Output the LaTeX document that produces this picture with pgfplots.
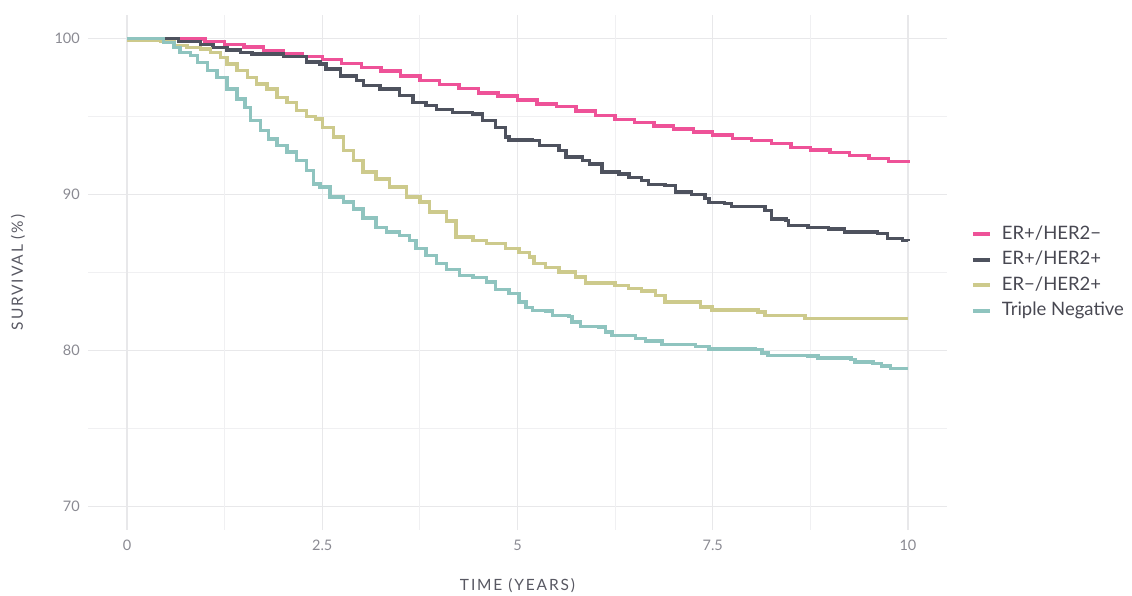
\documentclass[border=0pt]{standalone}
\usepackage{pgfplots}
\pgfplotsset{compat=1.18}
\usepackage{fontspec}
\setmainfont{Lato}
\newfontfamily\titlefont[LetterSpace=12]{Lato}

\definecolor{cPink}{RGB}{238,82,152}
\definecolor{cDark}{RGB}{78,82,94}
\definecolor{cOlive}{RGB}{205,202,140}
\definecolor{cTeal}{RGB}{143,196,191}
\definecolor{gridc}{RGB}{232,232,234}
\definecolor{gridm}{RGB}{240,240,242}
\definecolor{tickc}{RGB}{138,138,146}
\definecolor{titlec}{RGB}{88,88,98}
\definecolor{legc}{RGB}{72,72,82}

\begin{document}
\begin{tikzpicture}
\begin{axis}[
  scale only axis,
  width=859pt, height=515pt,
  xmin=-0.5, xmax=10.5,
  ymin=68.5, ymax=101.5,
  xtick={0,2.5,5,7.5,10},
  ytick={70,80,90,100},
  minor ytick={75,85,95},
  xmajorgrids=false, ymajorgrids=true, yminorgrids=true,
  major grid style={draw=gridc, line width=1.4pt},
  minor grid style={draw=gridm, line width=1.1pt},
  axis line style={draw=none},
  major tick length=0pt, minor tick length=0pt,
  tick style={draw=none},
  /pgf/number format/assume math mode=true,
  ticklabel style={font=\fontsize{14.5}{16}\selectfont, text=tickc, inner sep=0pt},
  yticklabel style={anchor=east, xshift=-8pt},
  xticklabel style={anchor=north, yshift=-10pt},
  xlabel={\titlefont TIME (YEARS)},
  ylabel={\titlefont SURVIVAL (\%)},
  label style={font=\fontsize{15.5}{17}\selectfont, text=titlec},
  xlabel style={at={(axis description cs:0.5,0)}, anchor=center, yshift=-56pt},
  ylabel style={at={(axis description cs:0,0.5)}, anchor=center, yshift=70pt},
  legend style={draw=none, fill=none, at={(1,0.5)}, anchor=west, xshift=24pt,
    inner sep=0pt, outer sep=0pt,
    font=\fontsize{18.5}{20}\selectfont, text=legc,
    nodes={inner sep=0pt, text height=13pt, text depth=3.5pt},
    row sep=9pt},
  legend cell align=left,
  legend image code/.code={
    \draw[line width=3.8pt] (0pt,0pt) -- (17pt,0pt);
    \path[draw=none] (0pt,0pt) -- (29pt,0pt);},
  every axis plot/.append style={const plot, mark=none, line width=3.4pt},
]

% vertical grid lines (major at 0,2.5,...; minor between)
\pgfplotsinvokeforeach{0,2.5,5,7.5,10}{
  \draw[gridc, line width=1.4pt] (axis cs:#1,68.5) -- (axis cs:#1,101.5);}
\pgfplotsinvokeforeach{1.25,3.75,6.25,8.75}{
  \draw[gridm, line width=1.1pt] (axis cs:#1,68.5) -- (axis cs:#1,101.5);}

% ER+/HER2-
\addplot[cPink] coordinates {
(0,100) (0.5,100) (0.7,99.95) (1.0,99.8) (1.25,99.6) (1.5,99.45) (1.75,99.2)
(2.0,99.05) (2.25,98.85) (2.5,98.65) (2.75,98.4) (3.0,98.15) (3.25,97.9)
(3.5,97.6) (3.75,97.3) (4.0,97.05) (4.25,96.8) (4.5,96.5) (4.75,96.3)
(5.0,96.05) (5.25,95.8) (5.5,95.65) (5.75,95.35) (6.0,95.05) (6.25,94.8)
(6.5,94.6) (6.75,94.4) (7.0,94.2) (7.25,94.0) (7.5,93.8) (7.75,93.6)
(8.0,93.45) (8.25,93.25) (8.5,93.0) (8.75,92.85) (9.0,92.7) (9.25,92.5)
(9.5,92.3) (9.75,92.1) (10,92.0)
};
\addlegendentry{ER+/HER2−}

% ER+/HER2+
\addplot[cDark] coordinates {
(0,100) (0.66,99.8) (0.94,99.6) (1.1,99.4) (1.28,99.26) (1.45,99.1) (1.6,99.0)
(2.0,98.85) (2.3,98.5) (2.47,98.36) (2.55,98.04) (2.73,97.6) (2.94,97.3)
(3.03,96.97) (3.24,96.76) (3.49,96.33) (3.66,95.9) (3.83,95.7) (3.96,95.44)
(4.17,95.27) (4.42,95.16) (4.55,94.73) (4.72,94.3) (4.85,93.67) (4.89,93.5)
(5.19,93.45) (5.28,93.13) (5.53,92.8) (5.62,92.39) (5.83,92.18) (5.92,91.96)
(6.08,91.43) (6.30,91.32) (6.43,91.1) (6.59,90.9) (6.68,90.64) (6.89,90.58)
(7.02,90.15) (7.23,90.0) (7.40,89.73) (7.45,89.5) (7.65,89.44) (7.74,89.23)
(8.17,88.98) (8.25,88.44) (8.44,88.34) (8.47,88.02) (8.72,87.9) (8.98,87.8)
(9.19,87.59) (9.61,87.49) (9.74,87.17) (9.93,87.06) (10,87.0)
};
\addlegendentry{ER+/HER2+}

% ER-/HER2+
\addplot[cOlive] coordinates {
(0,99.9) (0.43,99.8) (0.6,99.53) (0.77,99.42) (0.94,99.32) (1.07,99.1)
(1.2,98.78) (1.28,98.36) (1.41,97.93) (1.54,97.5) (1.66,97.08) (1.79,96.76)
(1.92,96.22) (2.05,95.9) (2.17,95.37) (2.3,94.99) (2.41,94.84) (2.5,94.3)
(2.64,93.67) (2.77,92.82) (2.9,92.18) (3.02,91.43) (3.19,91.0) (3.36,90.47)
(3.58,89.83) (3.75,89.51) (3.87,88.87) (4.09,88.3) (4.21,87.27) (4.43,87.06)
(4.6,86.85) (4.85,86.53) (5.02,86.27) (5.15,85.99) (5.21,85.56) (5.36,85.31)
(5.53,85.03) (5.74,84.71) (5.87,84.32) (6.25,84.18) (6.42,83.97) (6.59,83.81)
(6.77,83.54) (6.89,83.1) (7.34,82.79) (7.49,82.6) (8.08,82.47) (8.17,82.26)
(8.68,82.05) (10,82.05)
};
\addlegendentry{ER−/HER2+}

% Triple Negative
\addplot[cTeal] coordinates {
(0,100) (0.47,99.74) (0.6,99.42) (0.68,99.1) (0.81,98.89) (0.9,98.46)
(1.03,97.93) (1.15,97.5) (1.28,96.76) (1.41,96.12) (1.51,95.59) (1.58,94.73)
(1.71,94.1) (1.81,93.56) (1.92,93.14) (2.05,92.71) (2.17,92.18) (2.3,91.54)
(2.39,90.68) (2.47,90.47) (2.6,89.83) (2.77,89.51) (2.9,89.08) (3.02,88.5)
(3.19,87.9) (3.32,87.59) (3.49,87.38) (3.62,87.06) (3.7,86.53) (3.83,86.1)
(3.96,85.56) (4.09,85.18) (4.26,84.82) (4.43,84.67) (4.6,84.39) (4.72,83.9)
(4.89,83.65) (5.02,83.11) (5.11,82.75) (5.19,82.58) (5.36,82.53) (5.45,82.26)
(5.66,82.19) (5.7,81.83) (5.81,81.55) (6.04,81.51) (6.13,81.19) (6.21,80.98)
(6.51,80.77) (6.64,80.6) (6.85,80.4) (7.28,80.27) (7.45,80.1) (8.04,80.06)
(8.13,79.85) (8.21,79.7) (8.72,79.64) (8.85,79.53) (9.27,79.42) (9.32,79.27)
(9.55,79.17) (9.66,79.0) (9.78,78.85) (10,78.85)
};
\addlegendentry{Triple Negative}

\end{axis}
\pgfresetboundingbox
\path (-88pt,-65pt) rectangle (1044pt,530pt);
\end{tikzpicture}
\end{document}
